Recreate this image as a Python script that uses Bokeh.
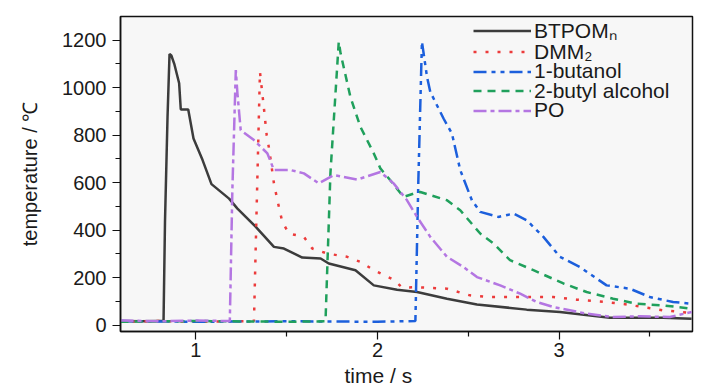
from bokeh.plotting import figure
from bokeh.models import Legend, LegendItem, Title, FixedTicker
from bokeh.embed import file_html
from bokeh.resources import INLINE

# ---- data (time in s, temperature in degC) ----
btpom_t = [0.585, 0.70, 0.80, 0.822, 0.830, 0.844, 0.855, 0.865, 0.881, 0.908, 0.917, 0.958, 0.987,
           1.037, 1.086, 1.183, 1.229, 1.330, 1.430, 1.485, 1.586, 1.687, 1.732, 1.879, 1.980,
           2.108, 2.218, 2.383, 2.548, 2.822, 3.005, 3.280, 3.573, 3.730]
btpom_y = [18, 17, 18, 18, 435, 877, 1141, 1135, 1100, 1018, 908, 908, 786,
           695, 594, 533, 491, 414, 330, 323, 285, 281, 260, 232, 168,
           150, 140, 112, 88, 66, 56, 32, 32, 28]

dmm2_t = [0.585, 0.80, 1.00, 1.20, 1.320, 1.335, 1.353, 1.375, 1.390, 1.403, 1.430, 1.449, 1.476,
          1.513, 1.595, 1.641, 1.723, 1.833, 1.906, 1.980, 2.089, 2.136, 2.218, 2.383, 2.510,
          2.620, 2.968, 3.097, 3.262, 3.372, 3.573, 3.730]
dmm2_y = [15, 18, 15, 17, 18, 500, 1066, 912, 800, 744, 597, 526, 435,
          386, 372, 323, 302, 288, 267, 232, 192, 159, 160, 154, 126,
          119, 119, 108, 98, 88, 63, 52]

but1_t = [0.585, 1.00, 1.50, 2.00, 2.209, 2.225, 2.245, 2.273, 2.291, 2.364, 2.410, 2.456, 2.520,
          2.566, 2.666, 2.749, 2.822, 2.914, 3.005, 3.115, 3.262, 3.390, 3.500, 3.628, 3.730]
but1_y = [18, 15, 17, 15, 18, 600, 1193, 1045, 982, 870, 807, 653, 526,
          477, 456, 470, 442, 372, 288, 245, 168, 154, 119, 98, 91]

but2_t = [0.585, 1.00, 1.50, 1.714, 1.741, 1.787, 1.797, 1.851, 1.906, 1.980, 2.016, 2.071, 2.144,
          2.200, 2.236, 2.383, 2.456, 2.566, 2.639, 2.730, 2.859, 3.024, 3.152, 3.298, 3.427,
          3.573, 3.730]
but2_y = [15, 18, 15, 17, 639, 1193, 1144, 961, 835, 723, 660, 610, 540,
          554, 561, 526, 484, 386, 344, 274, 232, 176, 140, 112, 91,
          84, 70]

po_t = [0.585, 0.80, 1.00, 1.187, 1.201, 1.220, 1.229, 1.247, 1.320, 1.394, 1.430, 1.522, 1.595,
        1.677, 1.760, 1.888, 2.016, 2.089, 2.163, 2.218, 2.291, 2.383, 2.474, 2.548, 2.676,
        2.786, 2.878, 2.968, 3.152, 3.298, 3.445, 3.610, 3.730]
po_y = [20, 17, 20, 18, 568, 1074, 975, 821, 779, 723, 653, 653, 639,
        597, 632, 613, 645, 597, 526, 456, 372, 288, 245, 203, 168,
        133, 98, 77, 49, 35, 38, 35, 56]

series_names = ["BTPOM\u2099", "DMM\u2082", "1-butanol", "2-butyl alcohol", "PO"]
x_ticks = [1, 2, 3]
y_ticks = [0, 200, 400, 600, 800, 1000, 1200]

FONT = "Liberation Sans"

p = figure(width=728, height=390, x_range=(0.585, 3.735), y_range=(-26, 1299),
           output_backend="svg", toolbar_location=None,
           min_border_left=120, min_border_right=36, min_border_top=16, min_border_bottom=59)
p.background_fill_color = "#f7f7f7"
p.border_fill_color = "#ffffff"
p.outline_line_color = "#111111"
p.outline_line_width = 1.5
p.grid.visible = False

r1 = p.line(btpom_t, btpom_y, line_color="#3c3c3c", line_width=2.5)
r2 = p.line(dmm2_t, dmm2_y, line_color="#ec3b3b", line_width=2.5, line_dash="3 9")
r3 = p.line(but1_t, but1_y, line_color="#1c5fdc", line_width=2.5, line_dash="13 5 4 5 4 5")
r4 = p.line(but2_t, but2_y, line_color="#20a05c", line_width=2.5, line_dash="8 6")
r5 = p.line(po_t, po_y, line_color="#b476e2", line_width=2.5, line_dash="13 4 4 4")

for ax in (p.xaxis[0], p.yaxis[0]):
    ax.axis_line_color = "#111111"
    ax.axis_line_width = 1.5
    ax.major_tick_line_color = "#111111"
    ax.minor_tick_line_color = "#111111"
    ax.major_tick_line_width = 1.2
    ax.minor_tick_line_width = 1.2
    ax.major_tick_in = 0
    ax.major_tick_out = 8
    ax.minor_tick_in = 0
    ax.minor_tick_out = 5
    ax.major_label_text_font = FONT
    ax.major_label_text_font_size = "20px"
    ax.major_label_text_color = "#1a1a1a"
    ax.axis_label_text_font = FONT
    ax.axis_label_text_font_size = "20px"
    ax.axis_label_text_font_style = "normal"
    ax.axis_label_text_color = "#1a1a1a"

p.xaxis[0].ticker = FixedTicker(ticks=x_ticks, minor_ticks=[0.5, 1.5, 2.5, 3.5])
p.yaxis[0].ticker = FixedTicker(ticks=y_ticks, minor_ticks=list(range(100, 1300, 200)))
p.xaxis[0].major_label_standoff = 3
p.yaxis[0].major_label_standoff = 6
p.yaxis[0].axis_label = "temperature / \u2103"
p.yaxis[0].axis_label_standoff = 18

xtitle = Title(text="time / s", align="left", offset=224, standoff=4,
               text_font=FONT, text_font_size="21px", text_font_style="normal",
               text_color="#1a1a1a")
p.add_layout(xtitle, "below")

# one single-row legend per series, so the rows can sit closer than the text height
row_pitch = 19.5
for i, (n, r) in enumerate(zip(series_names, [r1, r2, r3, r4, r5])):
    lg = Legend(items=[LegendItem(label=n, renderers=[r])],
                location=(353, 287 - row_pitch * i))
    lg.label_text_font = FONT
    lg.label_text_font_size = "21px"
    lg.label_text_color = "#1a1a1a"
    lg.glyph_width = 58
    lg.glyph_height = 19
    lg.label_height = 19
    lg.label_standoff = 3
    lg.spacing = 0
    lg.padding = 0
    lg.margin = 0
    lg.border_line_alpha = 0
    lg.background_fill_alpha = 0
    p.add_layout(lg)

open("out.html", "w").write(file_html(p, INLINE))
